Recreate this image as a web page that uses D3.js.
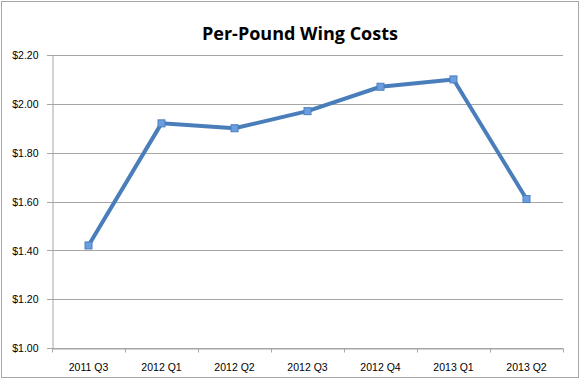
<!DOCTYPE html>
<html>
<head>
<meta charset="utf-8">
<script src="https://cdn.jsdelivr.net/npm/d3@7"></script>
<style>
  body { margin: 0; background: #fff; }
  text { font-family: "Liberation Sans", Arial, sans-serif; fill: #000; }
</style>
</head>
<body>
<div id="chart"></div>
<script>
(function(d3) {
  'use strict';

  var quarters = ['2011 Q3', '2012 Q1', '2012 Q2', '2012 Q3', '2012 Q4', '2013 Q1', '2013 Q2'];
  var costs = [1.42, 1.92, 1.90, 1.97, 2.07, 2.10, 1.61];
  var yTicks = [1.00, 1.20, 1.40, 1.60, 1.80, 2.00, 2.20];

  var width = 580;
  var height = 379;
  var margin = { top: 55, right: 17, bottom: 31, left: 52 };

  var svg = d3.select('#chart')
    .append('svg')
    .attr('width', width)
    .attr('height', height);

  // outer frame
  svg.append('rect')
    .attr('x', 1.5).attr('y', 1.5)
    .attr('width', width - 3).attr('height', height - 3)
    .attr('fill', '#fff')
    .attr('stroke', '#a6a6a6');

  svg.append('text')
    .attr('x', 300)
    .attr('y', 40)
    .attr('text-anchor', 'middle')
    .style('font-family', '"Open Sans", sans-serif')
    .style('font-weight', 'bold')
    .style('font-size', '18px')
    .text('Per-Pound Wing Costs');

  var x = d3.scaleBand()
    .domain(quarters)
    .range([margin.left, width - margin.right]);

  var y = d3.scaleLinear()
    .domain([1.0, 2.2])
    .range([height - margin.bottom, margin.top]);

  // gridlines
  svg.append('g')
    .selectAll('line')
    .data(yTicks)
    .enter()
    .append('line')
    .attr('x1', margin.left - 5)
    .attr('x2', width - margin.right)
    .attr('y1', function(d) { return Math.round(y(d)) + 0.5; })
    .attr('y2', function(d) { return Math.round(y(d)) + 0.5; })
    .attr('stroke', '#a6a6a6');

  // y axis
  var yAxis = svg.append('g')
    .attr('transform', 'translate(' + (margin.left + 0.5) + ',0)')
    .call(d3.axisLeft(y)
      .tickValues(yTicks)
      .tickSize(0)
      .tickPadding(14)
      .tickFormat(function(d) { return '$' + d.toFixed(2); }));
  yAxis.select('.domain').attr('stroke', '#a6a6a6');
  yAxis.selectAll('text').style('font-size', '10.5px').attr('dy', '0.35em');

  // x axis
  var xAxis = svg.append('g')
    .attr('transform', 'translate(0,' + (Math.round(y(1.0)) + 0.5) + ')')
    .call(d3.axisBottom(x).tickSize(0).tickPadding(15));
  xAxis.select('.domain').attr('stroke', '#a6a6a6');
  xAxis.selectAll('text').style('font-size', '10.5px');

  // x tick marks at band edges
  var edges = quarters.map(function(q) { return x(q); }).concat([x(quarters[quarters.length - 1]) + x.bandwidth()]);
  xAxis.selectAll('.edge')
    .data(edges)
    .enter()
    .append('line')
    .attr('class', 'edge')
    .attr('x1', function(d) { return Math.round(d) + 0.5; })
    .attr('x2', function(d) { return Math.round(d) + 0.5; })
    .attr('y1', 0)
    .attr('y2', 4)
    .attr('stroke', '#a6a6a6');

  var cx = function(d, i) { return x(quarters[i]) + x.bandwidth() / 2; };

  var line = d3.line()
    .x(cx)
    .y(function(d) { return y(d); });

  svg.append('path')
    .datum(costs)
    .attr('d', line)
    .attr('fill', 'none')
    .attr('stroke', '#4a7ebb')
    .attr('stroke-width', 4)
    .attr('stroke-linejoin', 'round');

  svg.append('g')
    .selectAll('rect')
    .data(costs)
    .enter()
    .append('rect')
    .attr('x', function(d, i) { return cx(d, i) - 3.5; })
    .attr('y', function(d) { return y(d) - 3.5; })
    .attr('width', 7)
    .attr('height', 7)
    .attr('fill', '#6b9ee0')
    .attr('stroke', '#4a7ebb')
    .attr('stroke-width', 1);

})(window.d3);
</script>
</body>
</html>
